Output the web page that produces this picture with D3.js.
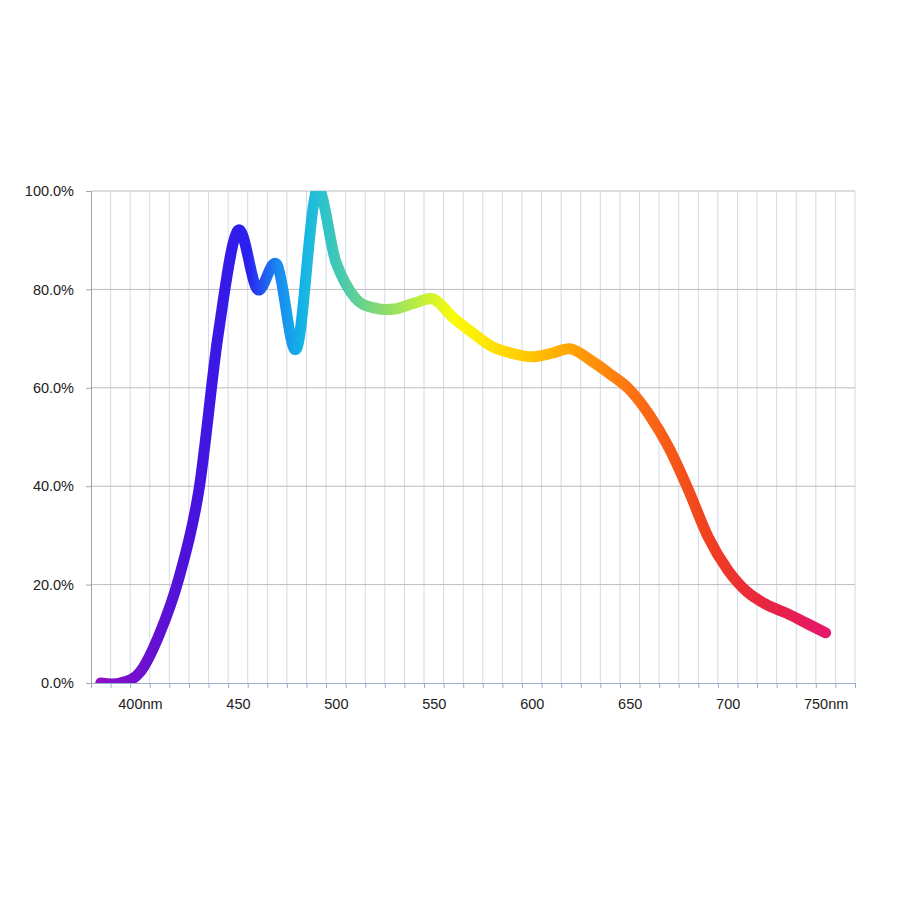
<!DOCTYPE html>
<html>
<head>
<meta charset="utf-8">
<script src="https://cdn.jsdelivr.net/npm/d3@7"></script>
<style>
  body { margin: 0; background: #fff; }
  #chart-root text { font-family: "Liberation Sans", Arial, sans-serif; font-size: 14.5px; fill: #222; }
</style>
</head>
<body>
<div id="chart-root"></div>
<script>
// wavelength (nm) and relative intensity (%)
var wavelengths = [380, 390, 400, 410, 420, 430, 440, 450, 460, 470,
                   480, 490, 500, 510, 520, 530, 540, 550, 560, 570,
                   580, 590, 600, 610, 620, 630, 640, 650, 660, 670,
                   680, 690, 700, 710, 720, 730, 740, 750];
var intensity = [0, 0, 2.2, 10, 21.5, 39, 71, 92, 80, 85,
                 68, 100, 85.6, 78.2, 76.2, 76, 77.2, 78, 74.2, 71.1,
                 68.3, 67, 66.3, 67, 67.9, 65.6, 62.8, 59.6, 54.5, 47.8,
                 39.2, 29.7, 23, 18.5, 15.9, 14.2, 12.2, 10.2];

var xLabelValues = [400, 450, 500, 550, 600, 650, 700, 750];
var xLabels = ["400nm", "450", "500", "550", "600", "650", "700", "750nm"];
var yTicks = [0, 20, 40, 60, 80, 100];
// category boundaries, every 10nm
var xBounds = d3.range(375, 766, 10);

// colour stops along the line, by wavelength
var spectrumNm = [380, 425, 455, 470, 482, 492, 502, 520, 545, 560, 590, 620, 650, 690, 720, 750];
var spectrumColors = ["#8c0fc4", "#4a12dc", "#2a1ff0", "#1a88f0", "#12b2e8", "#28c2d0", "#45c9b0",
                      "#7fd877", "#c4f03a", "#fbfb08", "#ffd403", "#ffa205", "#fc7412",
                      "#f0401f", "#e82442", "#e6186a"];

(function () {
  var margin = { top: 191, left: 91, right: 45, bottom: 217 },
      width  = 900 - margin.left - margin.right,
      height = 900 - margin.top - margin.bottom;

  var svg = d3.select("#chart-root")
    .append("svg")
      .attr("width", 900)
      .attr("height", 900);

  var g = svg.append("g")
      .attr("transform", "translate(" + margin.left + "," + margin.top + ")");

  var x = d3.scaleLinear()
      .domain([375, 765])
      .range([0, width]);

  var y = d3.scaleLinear()
      .domain([0, 100])
      .range([height, 0]);

  // vertical gridlines
  g.append("g")
    .selectAll("line")
    .data(xBounds.slice(1))
    .enter().append("line")
      .attr("x1", function (d) { return x(d); })
      .attr("x2", function (d) { return x(d); })
      .attr("y1", 0)
      .attr("y2", height)
      .attr("stroke", "#d0daea")
      .attr("stroke-width", 1);

  // horizontal gridlines
  g.append("g")
    .selectAll("line")
    .data(yTicks.slice(1))
    .enter().append("line")
      .attr("x1", 0)
      .attr("x2", width)
      .attr("y1", function (d) { return y(d); })
      .attr("y2", function (d) { return y(d); })
      .attr("stroke", "#bcbcbc")
      .attr("stroke-width", 1);

  // y axis
  var yAxis = g.append("g")
      .call(d3.axisLeft(y)
        .tickValues(yTicks)
        .tickSize(5)
        .tickPadding(12)
        .tickFormat(function (d) { return d.toFixed(1) + "%"; }));
  yAxis.select(".domain").attr("stroke", "#a3a3a3");
  yAxis.selectAll(".tick line").attr("stroke", "#a3a3a3");
  yAxis.selectAll("text").attr("fill", "#222");

  // x axis: boundary ticks
  var xAxis = g.append("g")
      .attr("transform", "translate(0," + height + ")")
      .call(d3.axisBottom(x)
        .tickValues(xBounds)
        .tickSize(5)
        .tickSizeOuter(0)
        .tickFormat(""));
  xAxis.select(".domain").attr("stroke", "#98b0cc");
  xAxis.selectAll(".tick line").attr("stroke", "#98b0cc");

  // x axis: labels in the middle of categories
  var xLab = g.append("g")
      .attr("transform", "translate(0," + height + ")")
      .call(d3.axisBottom(x)
        .tickValues(xLabelValues)
        .tickSize(0)
        .tickPadding(16)
        .tickFormat(function (d, i) { return xLabels[i]; }));
  xLab.select(".domain").remove();
  xLab.selectAll("text").attr("fill", "#222");

  // spectrum gradient
  var defs = svg.append("defs");
  var grad = defs.append("linearGradient")
      .attr("id", "spectrum")
      .attr("gradientUnits", "userSpaceOnUse")
      .attr("x1", x(380)).attr("x2", x(750))
      .attr("y1", 0).attr("y2", 0);
  grad.selectAll("stop")
    .data(spectrumNm)
    .enter().append("stop")
      .attr("offset", function (d) { return (d - 380) / (750 - 380); })
      .attr("stop-color", function (d, i) { return spectrumColors[i]; });

  defs.append("clipPath")
      .attr("id", "plot-clip")
    .append("rect")
      .attr("x", -20).attr("y", 0)
      .attr("width", width + 40).attr("height", height);

  var data = wavelengths.map(function (w, i) { return { nm: w, v: intensity[i] }; });

  g.append("path")
    .datum(data)
      .attr("clip-path", "url(#plot-clip)")
      .attr("fill", "none")
      .attr("stroke", "url(#spectrum)")
      .attr("stroke-width", 11)
      .attr("stroke-linecap", "round")
      .attr("stroke-linejoin", "round")
      .attr("d", d3.line()
        .curve(d3.curveCardinal.tension(0))
        .x(function (d) { return x(d.nm); })
        .y(function (d) { return y(d.v); }));
})();
</script>
</body>
</html>
